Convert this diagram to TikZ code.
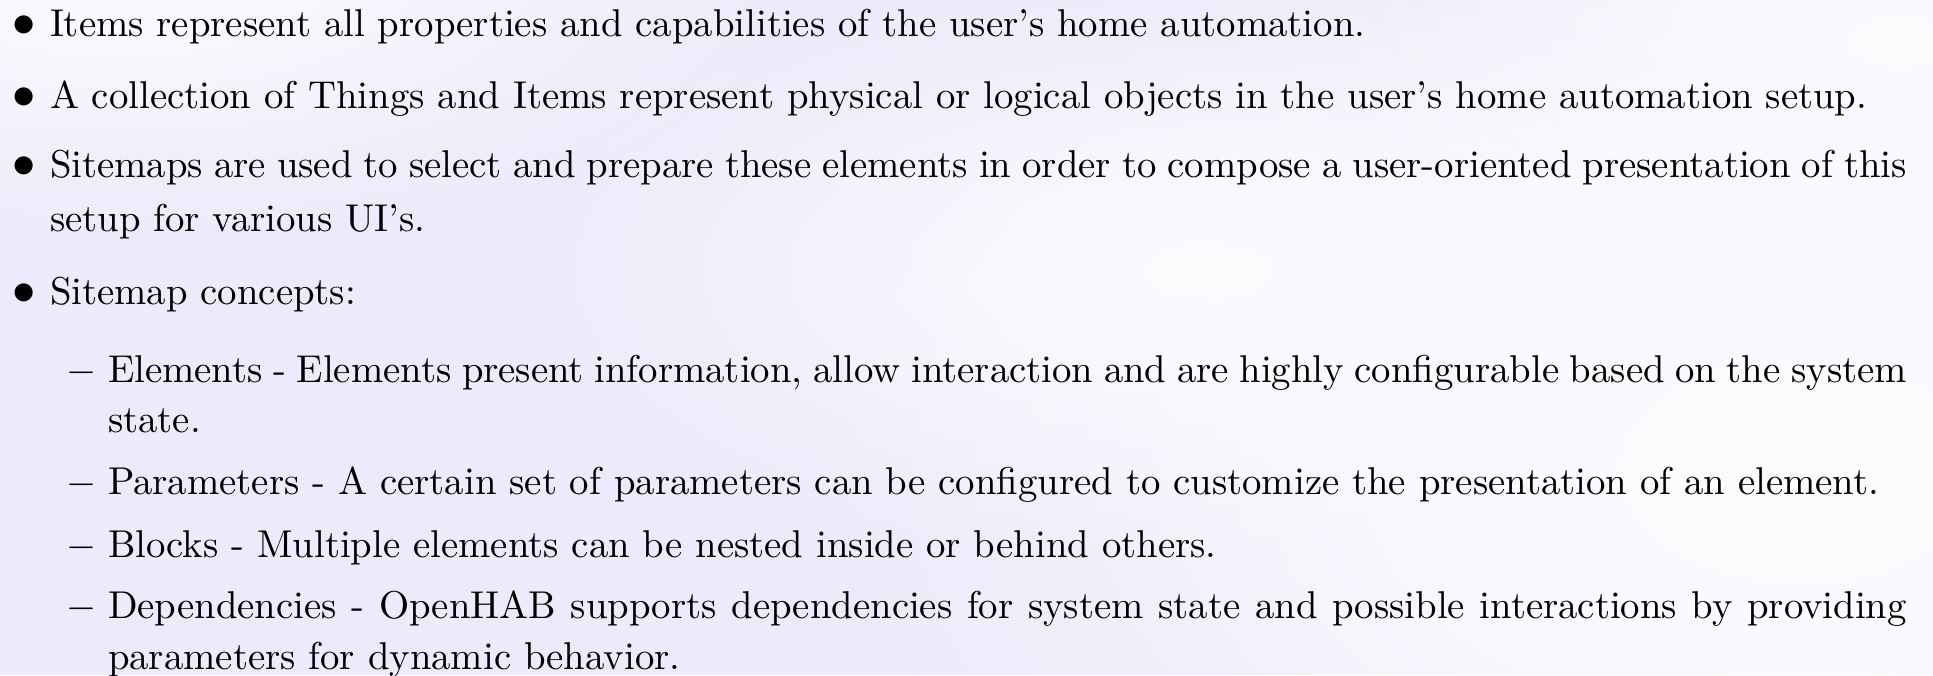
\documentclass[tikz,border=0pt]{standalone}
\usetikzlibrary{fadings}
\definecolor{bgL}{RGB}{235,235,251}
\definecolor{bgW}{RGB}{252,252,255}
\tikzfading[name=softglow, inner color=transparent!0, outer color=transparent!100]
\begin{document}
\begin{tikzpicture}[x=0.258pt,y=-0.258pt,
  txt/.style={anchor=base west,inner sep=0pt,outer sep=0pt,font=\normalsize},
  mark1/.style={anchor=base west,inner sep=0pt,font=\large},
  mark2/.style={anchor=base west,inner sep=0pt,font=\normalsize},
  glow/.style={fill=bgW,path fading=softglow},
]
\useasboundingbox (0,0) rectangle (1933,675);
\clip (0,0) rectangle (1933,675);
% background
\fill[bgL] (0,0) rectangle (1933,675);
\fill[glow] (1800,470) ellipse (1000 and 620);
\fill[glow] (1800,470) ellipse (700 and 420);
\fill[glow] (120,-20) ellipse (700 and 260);
\fill[glow] (1200,270) ellipse (700 and 300);
\fill[glow] (1900,40) ellipse (600 and 300);
% level 1
\node[mark1] (b1) at (12,36) {$\bullet$};
\node[txt] (t1) at (50,36) {Items represent all properties and capabilities of the user's home automation.};
\node[mark1] (b2) at (12,108) {$\bullet$};
\node[txt] (t2) at (50,108) {A collection of Things and Items represent physical or logical objects in the user's home automation setup.};
\node[mark1] (b3) at (12,177) {$\bullet$};
\node[txt] (t3a) at (50,177) {\hbox to 479.1pt{Sitemaps are used to select and prepare these elements in order to compose a user-oriented presentation of this}};
\node[txt] (t3b) at (50,231) {setup for various UI's.};
\node[mark1] (b4) at (12,304) {$\bullet$};
\node[txt] (t4) at (50,304) {Sitemap concepts:};
% level 2
\node[mark2] (d1) at (66,382) {$-$};
\node[txt] (s1a) at (108,382) {\hbox to 464.1pt{Elements - Elements present information, allow interaction and are highly configurable based on the system}};
\node[txt] (s1b) at (108,432) {state.};
\node[mark2] (d2) at (66,494) {$-$};
\node[txt] (s2) at (108,494) {Parameters - A certain set of parameters can be configured to customize the presentation of an element.};
\node[mark2] (d3) at (66,557) {$-$};
\node[txt] (s3) at (108,557) {Blocks - Multiple elements can be nested inside or behind others.};
\node[mark2] (d4) at (66,618) {$-$};
\node[txt] (s4a) at (108,618) {\hbox to 464.1pt{Dependencies - OpenHAB supports dependencies for system state and possible interactions by providing}};
\node[txt] (s4b) at (108,669) {parameters for dynamic behavior.};
\end{tikzpicture}
\end{document}
